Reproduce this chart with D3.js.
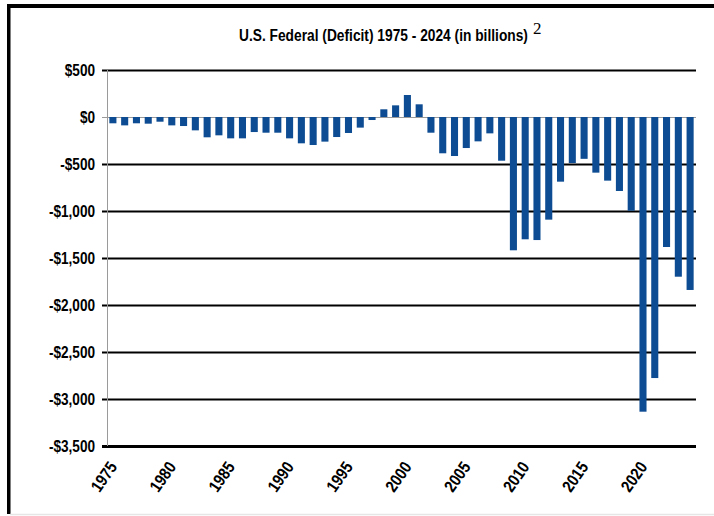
<!DOCTYPE html>
<html>
<head>
<meta charset="utf-8">
<script src="https://cdn.jsdelivr.net/npm/d3@7"></script>
<style>
  html, body { margin: 0; padding: 0; background: #fff; }
  svg { display: block; }
  .label { font-family: "Liberation Sans", Arial, sans-serif; font-weight: bold; fill: #000; }
</style>
</head>
<body>
<svg id="chart" width="714" height="516"></svg>
<script>
// Federal surplus / deficit by fiscal year, in billions of dollars
const years = d3.range(1975, 2025);
const deficits = [
  -67, -89, -67, -71, -50, -89, -96, -142, -216, -195,
  -227, -227, -160, -167, -167, -227, -280, -298, -262, -213,
  -170, -113, -32, 82, 124, 234, 135, -167, -386, -415,
  -330, -259, -174, -465, -1418, -1301, -1309, -1092, -688, -490,
  -445, -592, -677, -787, -997, -3135, -2777, -1383, -1699, -1840
];
const yTicks = [500, 0, -500, -1000, -1500, -2000, -2500, -3000, -3500];
const xLabelYears = [1975, 1980, 1985, 1990, 1995, 2000, 2005, 2010, 2015, 2020];

const titleText = "U.S. Federal (Deficit) 1975 - 2024 (in billions)";
const footnote = "2";

const data = years.map((y, i) => ({ year: y, value: deficits[i] }));

const svg = d3.select("#chart");
const W = 714, H = 516;
const plot = { left: 107, right: 696, top: 70, bottom: 446 };
const condense = 0.85; // horizontal squeeze for a narrow bold face

// Frame around the chart
svg.append("rect").attr("x", 0).attr("y", 0).attr("width", W).attr("height", H).attr("fill", "#fff");
svg.append("rect").attr("x", 7).attr("y", 4).attr("width", W - 7).attr("height", 4).attr("fill", "#000");
svg.append("rect").attr("x", 7).attr("y", 4).attr("width", 3.5).attr("height", 510).attr("fill", "#000");
svg.append("line").attr("x1", 10).attr("x2", W).attr("y1", 514.5).attr("y2", 514.5)
  .attr("stroke", "#e6e6e6").attr("stroke-width", 1.5);

const x = d3.scaleBand()
  .domain(years)
  .range([plot.left, plot.right])
  .paddingInner(0.4)
  .paddingOuter(0.2);

const y = d3.scaleLinear()
  .domain([-3500, 500])
  .range([plot.bottom, plot.top]);

// Horizontal gridlines with short ticks to the left of the axis
const yAxis = d3.axisLeft(y)
  .tickValues(yTicks)
  .tickSize(-(plot.right - plot.left))
  .tickPadding(12)
  .tickFormat(v => (v < 0 ? "-$" : "$") + d3.format(",")(Math.abs(v)));

const gy = svg.append("g")
  .attr("transform", `translate(${plot.left},0)`)
  .call(yAxis);
gy.select(".domain").remove();
gy.selectAll(".tick line")
  .attr("x1", -5)
  .attr("stroke", d => d === 0 ? "#9a9a9a" : "#000")
  .attr("stroke-width", d => d === 0 ? 1 : (d === -3500 ? 3 : 2))
  .attr("x2", plot.right - plot.left);
gy.selectAll(".tick text")
  .attr("class", "label")
  .attr("font-size", 16)
  .attr("x", -12 / condense)
  .attr("dy", "0.36em")
  .attr("transform", `scale(${condense},1)`);

// Vertical axis line
svg.append("line")
  .attr("x1", plot.left + 0.5).attr("x2", plot.left + 0.5)
  .attr("y1", plot.top).attr("y2", plot.bottom)
  .attr("stroke", "#9a9a9a").attr("stroke-width", 1);

// Bars
svg.append("g")
  .selectAll("rect")
  .data(data)
  .join("rect")
  .attr("x", d => x(d.year))
  .attr("width", x.bandwidth())
  .attr("y", d => y(Math.max(0, d.value)))
  .attr("height", d => Math.abs(y(d.value) - y(0)))
  .attr("fill", "#0d4c92");

// Year labels, rotated
svg.append("g")
  .selectAll("text")
  .data(xLabelYears)
  .join("text")
  .attr("class", "label")
  .attr("font-size", 17)
  .attr("text-anchor", "end")
  .attr("transform", d => `translate(${x(d) + x.bandwidth() / 2 + 5},467) rotate(-55) scale(${condense},1)`)
  .text(d => d);

// Title, squeezed to a narrow width, followed by a footnote marker
const title = svg.append("text")
  .attr("class", "label")
  .attr("font-size", 16.5)
  .text(titleText);
const natural = title.node().getComputedTextLength();
const titleScale = 289 / natural;
title.attr("transform", `translate(239,41) scale(${titleScale},1)`);
svg.append("text")
  .attr("x", 533)
  .attr("y", 34)
  .attr("font-family", "Liberation Serif, Times New Roman, serif")
  .attr("font-size", 17)
  .text(footnote);
</script>
</body>
</html>
